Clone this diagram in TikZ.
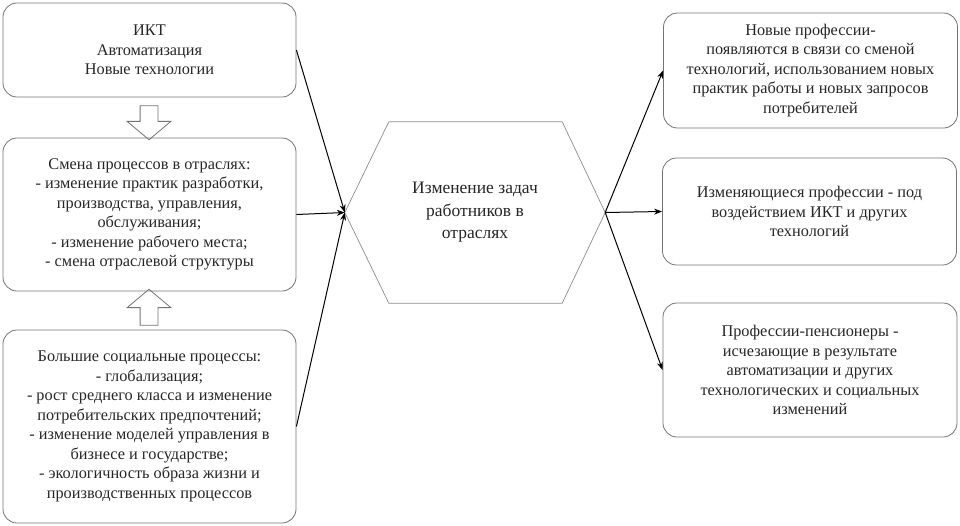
\documentclass[tikz,border=0pt]{standalone}
\usepackage{fontspec}
\setmainfont{Liberation Serif}
\newfontfamily\boxfont{Liberation Serif}
\usetikzlibrary{shapes.geometric, shapes.arrows, arrows.meta}
\tikzstyle{driver} = [rectangle, rounded corners=14pt, minimum width=293pt, text centered, align=center, draw=black!55, line width=0.8pt, text=black!85, font=\boxfont\fontsize{16.3}{19.5}\selectfont]
\tikzstyle{outcome} = [rectangle, rounded corners=14pt, minimum width=294pt, text centered, align=center, draw=black!55, line width=0.8pt, text=black!85, font=\boxfont\fontsize{16.3}{19.5}\selectfont]
\tikzstyle{task_shape} = [draw=none, minimum width=260pt, minimum height=181pt, text centered, align=center, text=black!85, font=\boxfont\fontsize{17.5}{22.5}\selectfont]
\tikzstyle{hex_line} = [draw=black!45, line width=0.7pt]
\tikzstyle{block_arrow} = [single arrow, draw=black!55, line width=0.8pt, minimum width=43pt, single arrow head extend=13pt, single arrow tip angle=100, inner sep=8.5pt]
\tikzstyle{arrow} = [line width=1pt, -{Stealth[length=8pt, width=6pt]}]
\begin{document}
\begin{tikzpicture}[x=1pt, y=-1pt]
		\useasboundingbox (0,0) rectangle (960,525);
		\node (ikt) [driver, minimum height=94pt] at (149.5,50) {ИКТ\\Автоматизация\\Новые технологии};
		\node (proc) [driver, minimum height=153pt] at (149.5,214.5) {Смена процессов в отраслях:\\- изменение практик разработки,\\производства, управления,\\обслуживания;\\- изменение рабочего места;\\- смена отраслевой структуры};
		\node (social) [driver, minimum height=193pt] at (149.5,426.5) {Большие социальные процессы:\\- глобализация;\\- рост среднего класса и изменение\\потребительских предпочтений;\\- изменение моделей управления в\\бизнесе и государстве;\\- экологичность образа жизни и\\производственных процессов};
		\node (ikt_to_proc) [block_arrow, shape border rotate=270, minimum height=34pt] at (149,119) {};
		\node (social_to_proc) [block_arrow, shape border rotate=90, minimum height=36pt] at (149,311) {};

		\node (task) [task_shape] at (475,212.5) {Изменение задач\\работников в\\отраслях};
		\draw [hex_line] (task.west) -- ([xshift=44pt]task.north west) -- ([xshift=-43pt]task.north east) -- (task.east) -- ([xshift=-43pt]task.south east) -- ([xshift=44pt]task.south west) -- cycle;

		\node (new_prof) [outcome, minimum height=115pt] at (810.5,70.5) {Новые профессии-\\появляются в связи со сменой\\технологий, использованием новых\\практик работы и новых запросов\\потребителей};
		\node (changing_prof) [outcome, minimum height=107pt] at (809.5,211.5) {Изменяющиеся профессии - под\\воздействием ИКТ и других\\технологий};
		\node (retired_prof) [outcome, minimum height=134pt] at (810,370) {Профессии-пенсионеры -\\исчезающие в результате\\автоматизации и других\\технологических и социальных\\изменений};

		\draw [arrow] (ikt.east) -- (task.west);
		\draw [arrow] (proc.east) -- (task.west);
		\draw [arrow] (social.east) -- (task.west);
		\draw [arrow] (task.east) -- (new_prof.west);
		\draw [arrow] (task.east) -- (changing_prof.west);
		\draw [arrow] (task.east) -- (retired_prof.west);
\end{tikzpicture}
\end{document}
